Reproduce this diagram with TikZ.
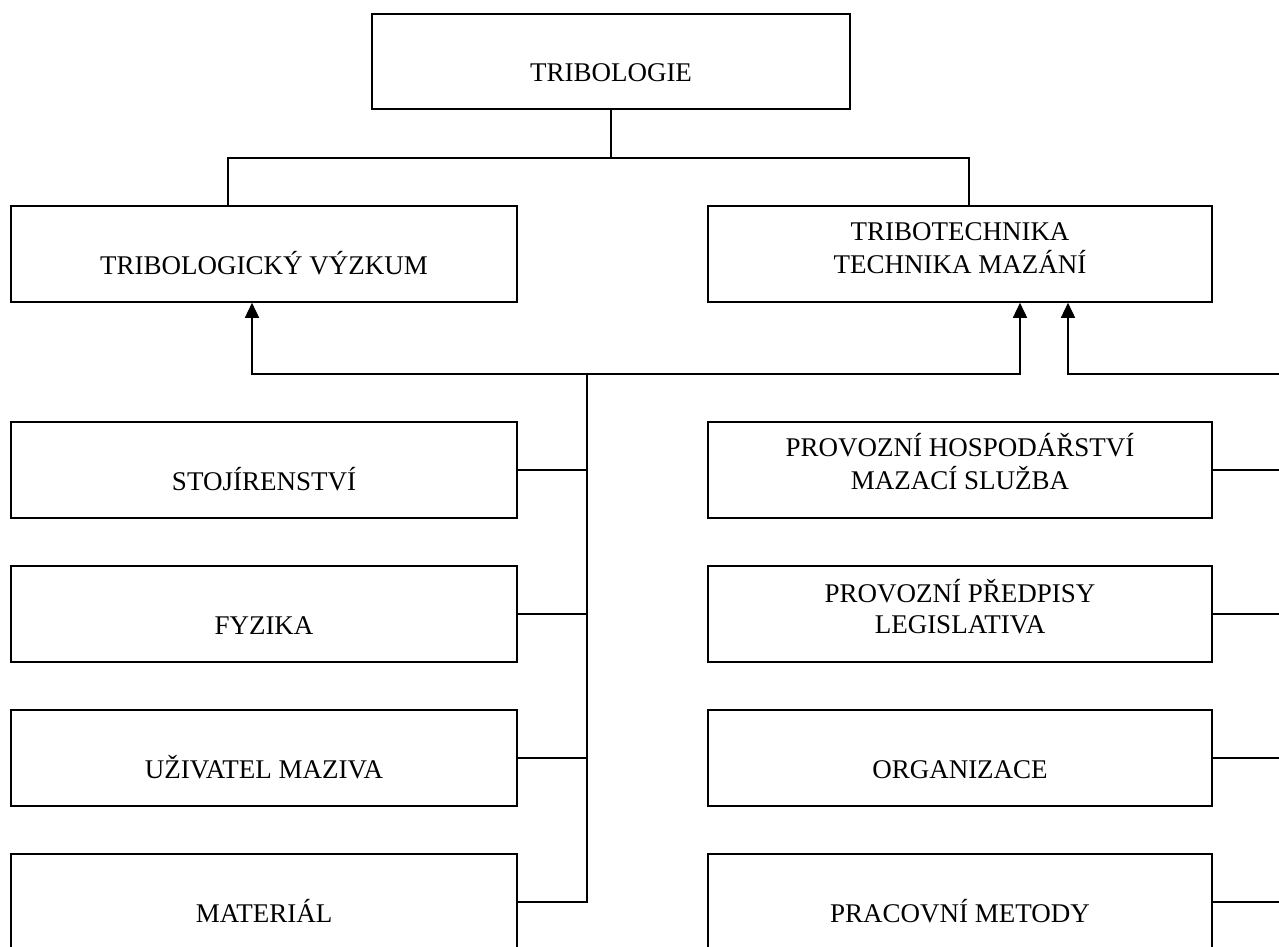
\documentclass[tikz,border=0pt]{standalone}
\usepackage{fontspec}
\setmainfont{Liberation Serif}
\usetikzlibrary{arrows.meta}

\begin{document}
\begin{tikzpicture}[x=1pt, y=-1pt,
  every path/.style={line width=1.6pt},
  box/.style={draw, line width=1.6pt, rectangle, inner sep=0pt,
              minimum width=506pt, minimum height=96pt},
  lbl/.style={anchor=base, inner sep=0pt, font=\fontsize{27}{31}\selectfont},
  arr/.style={-{Triangle[width=14pt,length=15pt]}}
]
\useasboundingbox (0,0) rectangle (1279,946);

% top level
\node[box, minimum width=478pt, minimum height=95pt] (tri) at (611,61.5) {};
\node[lbl] (tri-t) at ([yshift=-20pt]tri.center) {TRIBOLOGIE};

% second level
\node[box] (vyz) at (264,254) {};
\node[lbl] (vyz-t) at ([yshift=-20pt]vyz.center) {TRIBOLOGICKÝ VÝZKUM};
\node[box, minimum width=504pt] (tech) at (960,254) {};
\node[lbl] (tech-t) at ([yshift=-19pt]tech.center)
  {\begin{tabular}[b]{@{}c@{}}TRIBOTECHNIKA\\TECHNIKA MAZÁNÍ\end{tabular}};

% left column
\node[box] (stoj) at (264,470) {};
\node[lbl] (stoj-t) at ([yshift=-20pt]stoj.center) {STOJÍRENSTVÍ};
\node[box] (fyz) at (264,614) {};
\node[lbl] (fyz-t) at ([yshift=-20pt]fyz.center) {FYZIKA};
\node[box] (uziv) at (264,758) {};
\node[lbl] (uziv-t) at ([yshift=-20pt]uziv.center) {UŽIVATEL MAZIVA};
\node[box] (mat) at (264,902) {};
\node[lbl] (mat-t) at ([yshift=-20pt]mat.center) {MATERIÁL};

% right column
\node[box, minimum width=504pt] (hosp) at (960,470) {};
\node[lbl] (hosp-t) at ([yshift=-19pt]hosp.center)
  {\begin{tabular}[b]{@{}c@{}}PROVOZNÍ HOSPODÁŘSTVÍ\\MAZACÍ SLUŽBA\end{tabular}};
\node[box, minimum width=504pt] (pred) at (960,614) {};
\node[lbl] (pred-t) at ([yshift=-19pt]pred.center)
  {\begin{tabular}[b]{@{}c@{}}PROVOZNÍ PŘEDPISY\\LEGISLATIVA\end{tabular}};
\node[box, minimum width=504pt] (org) at (960,758) {};
\node[lbl] (org-t) at ([yshift=-20pt]org.center) {ORGANIZACE};
\node[box, minimum width=504pt] (met) at (960,902) {};
\node[lbl] (met-t) at ([yshift=-20pt]met.center) {PRACOVNÍ METODY};

% tree from the top box
\draw (tri.south) -- ++(0,48) coordinate (split);
\draw (split) -| ([xshift=-36pt]vyz.north);
\draw (split) -| ([xshift=9pt]tech.north);

% left collector line
\coordinate (bus) at (587,374);
\draw[arr] (bus) -| ([xshift=-12pt]vyz.south);
\draw[arr] (bus) -| ([xshift=60pt]tech.south);
\draw (bus) |- (mat.east);
\draw (stoj.east) -- (stoj.east -| bus);
\draw (fyz.east) -- (fyz.east -| bus);
\draw (uziv.east) -- (uziv.east -| bus);

% right collector line
\coordinate (rbus) at (1284,374);
\draw[arr] (rbus) -| ([xshift=108pt]tech.south);
\draw (rbus) |- (met.east);
\draw (hosp.east) -- (hosp.east -| rbus);
\draw (pred.east) -- (pred.east -| rbus);
\draw (org.east) -- (org.east -| rbus);
\end{tikzpicture}
\end{document}
